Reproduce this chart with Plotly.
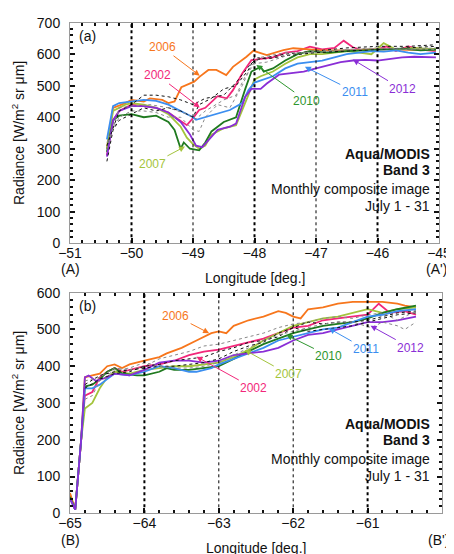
import plotly.graph_objects as go
from plotly.subplots import make_subplots

# ---------------- Panel (a) data ----------------
a_x2006 = [-50.4, -50.3, -50.1, -50.0, -49.8, -49.7, -49.5, -49.4, -49.3, -49.19, -48.98, -48.89, -48.75, -48.62, -48.46, -48.35, -48.13, -48.02, -47.8, -47.53, -47.37, -46.94, -46.5, -46.0, -45.5, -45.05]
a_y2006 = [300, 430, 445, 455, 450, 460, 455, 445, 450, 495, 513, 529, 550, 550, 534, 560, 592, 611, 597, 613, 619, 613, 612, 616, 614, 615]

a_x2002 = [-50.4, -50.3, -50.2, -50.1, -50.0, -49.8, -49.6, -49.4, -49.2, -49.1, -49.0, -48.9, -48.8, -48.6, -48.45, -48.35, -48.2, -48.05, -47.9, -47.7, -47.5, -47.3, -47.1, -46.9, -46.7, -46.55, -46.4, -46.2, -46.0, -45.85, -45.7, -45.5, -45.3, -45.05]
a_y2002 = [280, 390, 420, 430, 440, 435, 430, 415, 390, 375, 397, 423, 430, 467, 460, 486, 539, 581, 585, 590, 605, 610, 624, 615, 620, 643, 622, 610, 615, 625, 610, 625, 615, 610]

a_x2007 = [-50.4, -50.3, -50.1, -50.0, -49.8, -49.6, -49.4, -49.2, -49.1, -49.0, -48.9, -48.8, -48.7, -48.5, -48.3, -48.2, -48.1, -48.0, -47.9, -47.7, -47.5, -47.3, -47.1, -46.9, -46.5, -46.3, -46.1, -45.9, -45.7, -45.4, -45.05]
a_y2007 = [300, 420, 440, 445, 440, 430, 410, 370, 335, 315, 300, 310, 345, 365, 375, 420, 470, 520, 530, 545, 570, 590, 600, 600, 610, 605, 600, 635, 615, 620, 615]

a_x2010 = [-50.4, -50.3, -50.2, -50.0, -49.8, -49.6, -49.4, -49.3, -49.2, -49.15, -49.05, -48.9, -48.8, -48.7, -48.5, -48.3, -48.15, -48.05, -47.9, -47.85, -47.7, -47.5, -47.3, -47.1, -46.8, -46.5, -46.2, -45.9, -45.6, -45.3, -45.05]
a_y2010 = [290, 390, 405, 410, 400, 405, 385, 360, 300, 320, 300, 295, 320, 355, 385, 400, 490, 545, 560, 545, 555, 580, 600, 610, 605, 610, 612, 615, 618, 612, 615]

a_x2011 = [-50.4, -50.3, -50.2, -50.0, -49.8, -49.6, -49.4, -49.2, -49.0, -48.95, -48.8, -48.6, -48.4, -48.2, -48.1, -48.0, -47.85, -47.7, -47.5, -47.3, -47.1, -46.9, -46.7, -46.5, -46.3, -46.1, -45.9, -45.7, -45.5, -45.3, -45.05]
a_y2011 = [330, 435, 445, 450, 455, 452, 440, 420, 400, 392, 400, 410, 423, 445, 486, 510, 520, 530, 555, 570, 575, 580, 590, 600, 605, 610, 608, 612, 605, 600, 605]

a_x2012 = [-50.4, -50.3, -50.2, -50.0, -49.8, -49.6, -49.4, -49.2, -49.05, -48.95, -48.85, -48.7, -48.6, -48.4, -48.3, -48.15, -48.05, -47.9, -47.8, -47.6, -47.4, -47.2, -47.0, -46.8, -46.6, -46.4, -46.2, -46.0, -45.8, -45.6, -45.4, -45.05]
a_y2012 = [275, 390, 420, 435, 435, 430, 415, 385, 345, 310, 305, 338, 360, 370, 380, 465, 490, 490, 507, 535, 540, 545, 555, 565, 575, 580, 582, 580, 585, 590, 592, 590]

a_xd1 = [-50.4, -50.2, -50.0, -49.8, -49.6, -49.4, -49.2, -49.0, -48.8, -48.5, -48.3, -48.1, -48.0, -47.8, -47.5, -47.0, -46.5, -46.0, -45.5, -45.05]
a_yd1 = [310, 420, 440, 470, 470, 465, 455, 440, 460, 470, 510, 560, 580, 590, 600, 610, 620, 625, 625, 630]
a_xd2 = [-50.4, -50.2, -50.0, -49.8, -49.6, -49.4, -49.2, -49.0, -48.9, -48.8, -48.6, -48.4, -48.2, -48.05, -47.9, -47.5, -47.0, -46.5, -46.0, -45.5, -45.05]
a_yd2 = [320, 400, 420, 420, 415, 400, 400, 360, 355, 400, 440, 430, 500, 565, 590, 605, 605, 615, 620, 615, 620]
a_xd3 = [-50.4, -50.3, -50.2, -50.0, -49.8, -49.6, -49.4, -49.2, -49.0, -48.9, -48.7, -48.5, -48.3, -48.1, -48.0, -47.8, -47.5, -47.0, -46.5, -46.0, -45.5, -45.05]
a_yd3 = [260, 360, 390, 410, 430, 420, 430, 420, 400, 440, 460, 490, 500, 550, 590, 585, 595, 605, 610, 615, 620, 625]
a_xd4 = [-50.4, -50.2, -50.0, -49.7, -49.4, -49.1, -48.95, -48.8, -48.5, -48.3, -48.15, -48.0, -47.8, -47.4, -47.0, -46.0, -45.05]
a_yd4 = [300, 430, 435, 440, 430, 410, 395, 420, 455, 470, 530, 570, 575, 600, 610, 618, 615]

# ---------------- Panel (b) data ----------------
b_x2006 = [-65.0, -64.93, -64.85, -64.8, -64.7, -64.6, -64.5, -64.4, -64.3, -64.2, -64.0, -63.8, -63.7, -63.5, -63.3, -63.1, -63.0, -62.9, -62.8, -62.6, -62.4, -62.2, -62.1, -62.0, -61.9, -61.8, -61.6, -61.4, -61.2, -61.0, -60.8, -60.6, -60.5, -60.35]
b_y2006 = [55, 10, 200, 370, 375, 380, 400, 405, 395, 405, 415, 425, 435, 450, 470, 490, 495, 490, 510, 525, 535, 550, 545, 535, 530, 555, 560, 570, 575, 575, 575, 570, 565, 560]

b_x2002 = [-65.0, -64.93, -64.85, -64.8, -64.7, -64.6, -64.5, -64.4, -64.3, -64.2, -64.0, -63.8, -63.6, -63.4, -63.2, -63.0, -62.8, -62.6, -62.4, -62.2, -62.0, -61.8, -61.6, -61.4, -61.2, -61.0, -60.85, -60.7, -60.5, -60.35]
b_y2002 = [50, 10, 200, 320, 330, 370, 385, 395, 385, 390, 400, 405, 415, 430, 440, 445, 455, 465, 475, 490, 505, 510, 525, 530, 535, 540, 570, 545, 550, 540]

b_x2007 = [-65.0, -64.93, -64.85, -64.8, -64.7, -64.6, -64.5, -64.4, -64.2, -64.0, -63.8, -63.6, -63.4, -63.2, -63.0, -62.8, -62.6, -62.4, -62.2, -62.0, -61.8, -61.6, -61.4, -61.2, -61.0, -60.8, -60.6, -60.35]
b_y2007 = [40, 10, 200, 285, 300, 340, 370, 385, 380, 390, 395, 400, 400, 405, 410, 425, 445, 470, 490, 510, 520, 530, 535, 545, 555, 545, 555, 560]

b_x2010 = [-65.0, -64.93, -64.85, -64.8, -64.7, -64.6, -64.5, -64.4, -64.3, -64.1, -64.0, -63.8, -63.7, -63.6, -63.4, -63.2, -63.0, -62.8, -62.6, -62.4, -62.2, -62.0, -61.8, -61.6, -61.4, -61.2, -61.0, -60.8, -60.6, -60.35]
b_y2010 = [45, 10, 200, 345, 350, 365, 385, 395, 380, 375, 375, 385, 395, 390, 390, 395, 400, 420, 440, 460, 475, 490, 500, 510, 515, 520, 530, 545, 555, 565]

b_x2011 = [-65.0, -64.93, -64.85, -64.8, -64.7, -64.6, -64.5, -64.4, -64.2, -64.0, -63.8, -63.6, -63.4, -63.3, -63.1, -63.0, -62.8, -62.6, -62.4, -62.2, -62.0, -61.8, -61.6, -61.4, -61.2, -61.0, -60.8, -60.6, -60.35]
b_y2011 = [40, 10, 200, 340, 340, 350, 365, 380, 375, 385, 400, 395, 385, 385, 395, 405, 420, 435, 450, 470, 480, 490, 500, 505, 520, 535, 540, 550, 555]

b_x2012 = [-65.0, -64.93, -64.85, -64.8, -64.75, -64.65, -64.5, -64.4, -64.2, -64.0, -63.8, -63.6, -63.4, -63.2, -63.0, -62.8, -62.6, -62.4, -62.2, -62.0, -61.8, -61.6, -61.4, -61.2, -61.0, -60.8, -60.6, -60.35]
b_y2012 = [40, 10, 200, 370, 375, 360, 370, 380, 375, 390, 410, 415, 415, 410, 415, 430, 435, 440, 450, 470, 485, 490, 500, 510, 520, 520, 525, 535]

b_xd1 = [-64.8, -64.6, -64.4, -64.2, -64.0, -63.8, -63.6, -63.4, -63.2, -63.0, -62.8, -62.6, -62.4, -62.2, -62.0, -61.8, -61.6, -61.4, -61.2, -61.0, -60.8, -60.6, -60.35]
b_yd1 = [350, 375, 385, 390, 395, 400, 400, 405, 410, 420, 440, 455, 465, 490, 505, 520, 515, 520, 520, 525, 535, 545, 550]
b_xd2 = [-64.8, -64.6, -64.4, -64.2, -64.0, -63.8, -63.6, -63.4, -63.2, -63.0, -62.8, -62.6, -62.4, -62.2, -62.0, -61.8, -61.6, -61.4, -61.2, -61.0, -60.8, -60.6, -60.35]
b_yd2 = [360, 370, 395, 390, 400, 420, 430, 440, 455, 460, 470, 480, 490, 505, 515, 520, 530, 535, 530, 540, 545, 525, 550]
b_xd3 = [-64.8, -64.6, -64.4, -64.2, -64.0, -63.8, -63.6, -63.4, -63.2, -63.0, -62.8, -62.6, -62.4, -62.2, -62.0, -61.8, -61.6, -61.4, -61.2, -61.0, -60.8, -60.6, -60.35]
b_yd3 = [340, 365, 380, 385, 400, 405, 415, 420, 425, 440, 450, 465, 470, 480, 505, 495, 500, 505, 510, 520, 530, 540, 545]
b_xd4 = [-64.8, -64.7, -64.6, -64.4, -64.2, -64.0, -63.8, -63.6, -63.4, -63.2, -63.0, -62.8, -62.6, -62.4, -62.2, -62.0, -61.8, -61.6, -61.4, -61.2, -60.95, -60.8, -60.6, -60.5, -60.35]
b_yd4 = [310, 320, 360, 390, 395, 410, 400, 395, 395, 400, 410, 430, 450, 470, 485, 495, 505, 515, 520, 520, 505, 520, 510, 500, 520]

years = ["2002", "2006", "2007", "2010", "2011", "2012"]
colors = {"2002": "#f2277a", "2006": "#f7761c", "2007": "#a3c43c",
          "2010": "#1f7a1f", "2011": "#3b8ef0", "2012": "#8a2ed6"}
label_colors = {"2002": "#f2277a", "2006": "#f7761c", "2007": "#a3c43c",
                "2010": "#2e962e", "2011": "#3b8ef0", "2012": "#8a2ed6"}

a_series = {"2002": (a_x2002, a_y2002), "2006": (a_x2006, a_y2006), "2007": (a_x2007, a_y2007),
            "2010": (a_x2010, a_y2010), "2011": (a_x2011, a_y2011), "2012": (a_x2012, a_y2012)}
b_series = {"2002": (b_x2002, b_y2002), "2006": (b_x2006, b_y2006), "2007": (b_x2007, b_y2007),
            "2010": (b_x2010, b_y2010), "2011": (b_x2011, b_y2011), "2012": (b_x2012, b_y2012)}
a_dotted = [(a_xd1, a_yd1, "#111"), (a_xd2, a_yd2, "#888"), (a_xd3, a_yd3, "#111"), (a_xd4, a_yd4, "#888")]
b_dotted = [(b_xd1, b_yd1, "#111"), (b_xd2, b_yd2, "#888"), (b_xd3, b_yd3, "#111"), (b_xd4, b_yd4, "#888")]

# label text position (tail) and arrow head position
a_labels = {"2006": ((-49.5, 622), (-48.89, 532)), "2002": ((-49.57, 533), (-48.89, 431)),
            "2007": ((-49.66, 252), (-49.13, 307)), "2010": ((-47.16, 453), (-47.97, 566)),
            "2011": ((-46.37, 481), (-47.18, 560)), "2012": ((-45.6, 489), (-46.4, 583))}
b_labels = {"2006": ((-63.58, 537), (-63.13, 490)), "2002": ((-62.53, 340), (-63.30, 426)),
            "2007": ((-62.06, 378), (-62.65, 444)), "2010": ((-61.52, 428), (-62.09, 485)),
            "2011": ((-61.02, 446), (-61.52, 503)), "2012": ((-60.42, 450), (-60.96, 510))}

a_xticks = [-51, -50, -49, -48, -47, -46, -45]
b_xticks = [-65, -64, -63, -62, -61, -60]
a_endpoints = ["(A)", "(A')"]
b_endpoints = ["(B)", "(B')"]
xtitle = "Longitude [deg.]"
ytitle = "Radiance [W/m<sup>2</sup> sr μm]"

FONT = "Liberation Sans, Arial, sans-serif"
W, H = 446, 546          # page body has an 8 px margin
ML, MR = 62, 12
PW = W - ML - MR

def px_x(p):             # figure pixel -> paper x
    return (p - ML) / PW

def px_y(p):             # figure pixel -> paper y
    return 1 - p / H

fig = make_subplots(rows=2, cols=1)

for yr in years:
    x, y = a_series[yr]
    fig.add_trace(go.Scatter(x=x, y=y, mode="lines", line=dict(color=colors[yr], width=1.8),
                             showlegend=False), row=1, col=1)
for x, y, c in a_dotted:
    fig.add_trace(go.Scatter(x=x, y=y, mode="lines", line=dict(color=c, width=1, dash="dot"),
                             showlegend=False), row=1, col=1)
for yr in years:
    x, y = b_series[yr]
    fig.add_trace(go.Scatter(x=x, y=y, mode="lines", line=dict(color=colors[yr], width=1.8),
                             showlegend=False), row=2, col=1)
for x, y, c in b_dotted:
    fig.add_trace(go.Scatter(x=x, y=y, mode="lines", line=dict(color=c, width=1, dash="dot"),
                             showlegend=False), row=2, col=1)

# vertical dotted reference lines
for xv, w in [(-50, 2), (-49, 1), (-48, 2), (-47, 1), (-46, 2)]:
    fig.add_shape(type="line", xref="x", yref="y", x0=xv, x1=xv, y0=0, y1=700,
                  line=dict(color="black", width=w, dash="dot"))
for xv, w in [(-64, 2), (-63, 1), (-62, 1), (-61, 2)]:
    fig.add_shape(type="line", xref="x2", yref="y2", x0=xv, x1=xv, y0=0, y1=600,
                  line=dict(color="black", width=w, dash="dot"))

def add_labels(labels, xr, yr):
    for yrname, ((tx, ty), (hx, hy)) in labels.items():
        fig.add_annotation(x=hx, y=hy, ax=tx, ay=ty, xref=xr, yref=yr, axref=xr, ayref=yr,
                           text=yrname, showarrow=True, arrowhead=2, arrowsize=1.2,
                           arrowwidth=1, arrowcolor=label_colors[yrname], standoff=0,
                           font=dict(family=FONT, size=12, color=label_colors[yrname]))

add_labels(a_labels, "x", "y")
add_labels(b_labels, "x2", "y2")

def add_block(xr, yr, xright, ys, panel, px, py):
    texts = ["<b>Aqua/MODIS</b>", "<b>Band 3</b>", "Monthly composite image", "July 1 - 31"]
    for t, yv in zip(texts, ys):
        fig.add_annotation(x=xright, y=yv, xref=xr, yref=yr, text=t, showarrow=False,
                           xanchor="right", yanchor="middle",
                           font=dict(family=FONT, size=14, color="#111"))
    fig.add_annotation(x=px, y=py, xref=xr, yref=yr, text=panel, showarrow=False,
                       xanchor="center", yanchor="middle",
                       font=dict(family=FONT, size=14, color="#111"))

add_block("x", "y", -45.12, [283, 233, 171, 119], "(a)", -50.72, 658)
add_block("x2", "y2", -60.14, [243, 199, 147, 102], "(b)", -64.77, 564)

def txt(x, y, t, xref="paper", angle=0):
    fig.add_annotation(x=x, y=y, xref=xref, yref="paper", text=t, showarrow=False,
                       xanchor="center", yanchor="middle", textangle=angle,
                       font=dict(family=FONT, size=14, color="#111"))

# endpoint letters, axis titles (figure pixel positions)
txt(px_x(62), px_y(261), a_endpoints[0])
txt(px_x(428.7), px_y(261), a_endpoints[1])
txt(px_x(246.5), px_y(270), xtitle)
txt(px_x(62), px_y(532), b_endpoints[0])
txt(px_x(430), px_y(532), b_endpoints[1])
txt(px_x(248), px_y(540), xtitle)
txt(px_x(10), px_y(125), ytitle, angle=-90)
txt(px_x(10), px_y(395), ytitle, angle=-90)

axis_common = dict(showgrid=False, zeroline=False, showline=True, linecolor="#9a9a9a",
                   linewidth=1, mirror="ticks", ticks="inside", tickcolor="#111",
                   tickwidth=1.5, ticklen=5, automargin=False,
                   tickfont=dict(family=FONT, size=14, color="#111"))

fig.update_xaxes(range=[-51, -45], tickvals=a_xticks, ticklabelstandoff=-3,
                 minor=dict(dtick=0.2, tick0=-51, ticks="inside", ticklen=3, tickcolor="#111"),
                 domain=[0, 369 / PW], row=1, col=1, **axis_common)
fig.update_xaxes(range=[-65, -60], tickvals=b_xticks, ticklabelstandoff=-3,
                 minor=dict(dtick=0.2, tick0=-65, ticks="inside", ticklen=3, tickcolor="#111"),
                 domain=[0, 1], row=2, col=1, **axis_common)
fig.update_yaxes(range=[0, 700], dtick=100, ticklabelstandoff=6,
                 minor=dict(dtick=20, ticks="inside", ticklen=3, tickcolor="#111"),
                 domain=[px_y(235.3), px_y(14.7)], row=1, col=1, **axis_common)
fig.update_yaxes(range=[0, 600], dtick=100, ticklabelstandoff=6,
                 minor=dict(dtick=20, ticks="inside", ticklen=3, tickcolor="#111"),
                 domain=[px_y(505.3), px_y(284.7)], row=2, col=1, **axis_common)

fig.update_layout(width=W, height=H, margin=dict(l=ML, r=MR, t=0, b=0),
                  plot_bgcolor="white", paper_bgcolor="white",
                  font=dict(family=FONT, size=14, color="#111"), showlegend=False)

fig.write_html("out.html")
